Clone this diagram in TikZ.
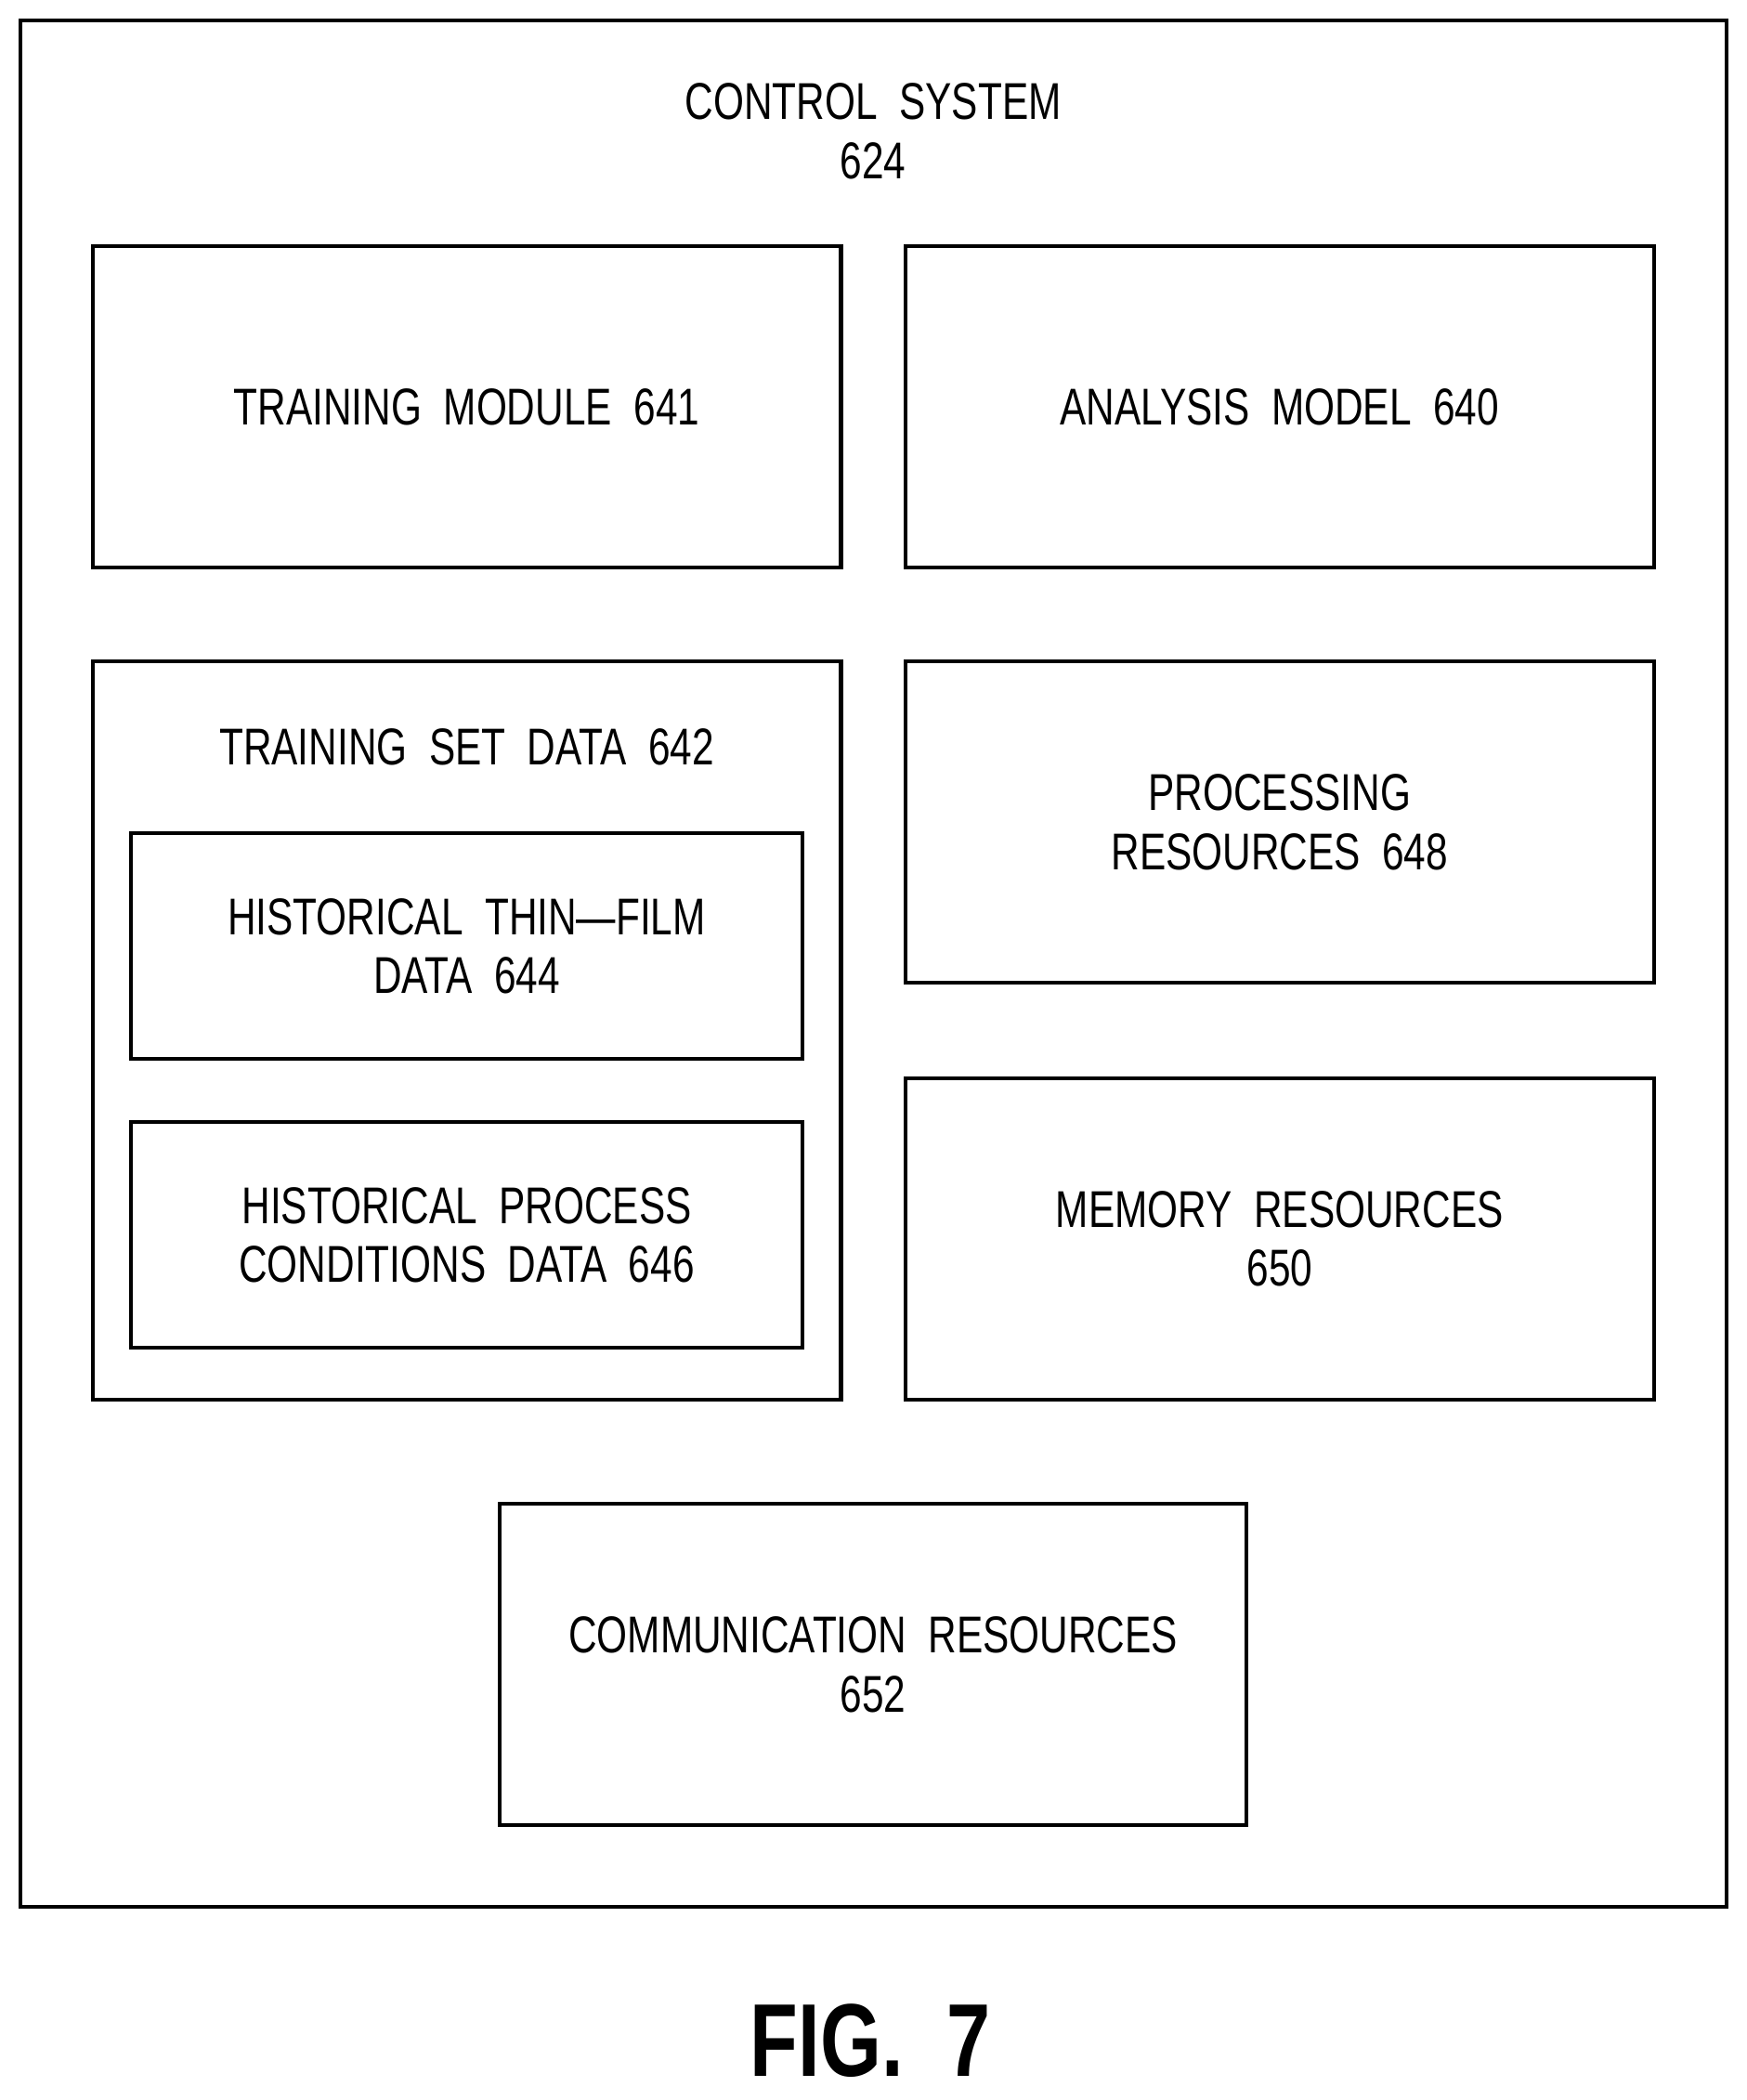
\documentclass[tikz,border=0pt]{standalone}
\usepackage{fontspec}
\setmainfont{Liberation Sans}[FakeStretch=0.76]
\usetikzlibrary{positioning}

\begin{document}
\begin{tikzpicture}[x=0.02cm, y=-0.02cm, very thick,
    box/.style={draw, line width=1.6pt, rectangle, align=center, inner sep=0pt, font=\fontsize{22}{25}\selectfont},
    big box/.style={box, minimum width=11.18cm, minimum height=4.8cm},
    sub box/.style={box, minimum width=10.02cm, minimum height=3.37cm}]
\useasboundingbox (0,0) rectangle (1304,1568);
% outer frame
\node[box, minimum width=25.48cm, minimum height=28.18cm] (ctrl) at (652,719.5) {};
\node[font=\fontsize{22}{25}\selectfont, align=center] (ctrltxt) at (652,98) {CONTROL\ \ SYSTEM\\624};

\node[big box] (train) at (348.5,304) {TRAINING\ \ MODULE\ \ 641};
\node[big box] (model) at (955.5,304) {ANALYSIS\ \ MODEL\ \ 640};

\node[box, minimum width=11.18cm, minimum height=11.02cm] (set) at (348.5,769.5) {};
\node[font=\fontsize{22}{25}\selectfont] (settxt) at (348.5,558) {TRAINING\ \ SET\ \ DATA\ \ 642};
\node[sub box] (thin) at (348.5,706.5) {HISTORICAL\ \ THIN---FILM\\DATA\ \ 644};
\node[sub box] (cond) at (348.5,922) {HISTORICAL\ \ PROCESS\\CONDITIONS\ \ DATA\ \ 646};

\node[big box] (proc) at (955.5,614) {PROCESSING\\RESOURCES\ \ 648};
\node[big box] (mem) at (955.5,925) {MEMORY\ \ RESOURCES\\650};

\node[big box, minimum width=11.16cm] (comm) at (652,1243) {COMMUNICATION\ \ RESOURCES\\652};

\node[font=\fontsize{44}{48}\selectfont\bfseries] (fig) at (650,1524) {FIG.\ \ 7};
\end{tikzpicture}
\end{document}
